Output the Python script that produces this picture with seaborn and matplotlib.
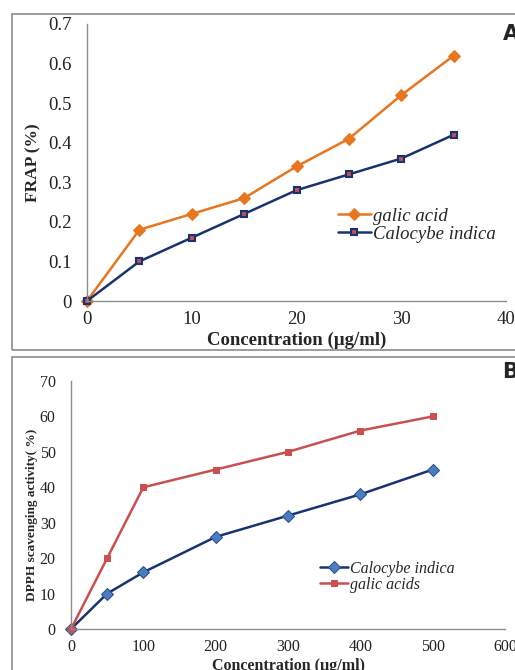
import pandas as pd
import matplotlib.pyplot as plt
import seaborn as sns
from matplotlib.patches import Rectangle

# Panel A: FRAP
conc_a = [0, 5, 10, 15, 20, 25, 30, 35]
frap_galic = [0, 0.18, 0.22, 0.26, 0.34, 0.41, 0.52, 0.62]
frap_calocybe = [0, 0.10, 0.16, 0.22, 0.28, 0.32, 0.36, 0.42]

# Panel B: DPPH
conc_b = [0, 50, 100, 200, 300, 400, 500]
dpph_calocybe = [0, 10, 16, 26, 32, 38, 45]
dpph_galic = [0, 20, 40, 45, 50, 56, 60]

sns.set_style("white")
plt.rcParams['font.family'] = ['Liberation Serif', 'DejaVu Serif']

fig = plt.figure(figsize=(5.15, 6.7), dpi=100)

# panel frames (clipped on the right / bottom like the source)
fig.patches.append(Rectangle((12 / 515, 1 - 350 / 670), 1.2, 336 / 670, transform=fig.transFigure,
                             fill=False, edgecolor='#8c8c8c', linewidth=1.2))
fig.patches.append(Rectangle((12 / 515, -0.2), 1.2, 0.2 + 1 - 357 / 670, transform=fig.transFigure,
                             fill=False, edgecolor='#8c8c8c', linewidth=1.2))

grey = '#8c8c8c'


def style_axes(ax, size):
    sns.despine(ax=ax)
    for s in ['left', 'bottom']:
        ax.spines[s].set_color(grey)
        ax.spines[s].set_linewidth(1)
    ax.tick_params(axis='both', direction='out', length=4, color=grey, labelsize=size,
                   labelcolor='#222222', width=1)
    ax.tick_params(axis='y', pad=7)


# ---- A ----
axA = fig.add_axes([87 / 515, 1 - 301 / 670, 419 / 515, 277 / 670])
axA.set_facecolor('none')
sns.lineplot(x=conc_a, y=frap_galic, ax=axA, color='#E8761E', marker='D', markersize=6.5,
             markeredgecolor='#E8761E', linewidth=1.8, label='galic acid', clip_on=False)
sns.lineplot(x=conc_a, y=frap_calocybe, ax=axA, color='#1A3370', marker='s', markersize=5,
             markerfacecolor='#C05050', markeredgecolor='#1A3370', markeredgewidth=1.5,
             linewidth=1.8, label='Calocybe indica', clip_on=False)
axA.set_xlim(0, 40)
axA.set_ylim(0, 0.7)
axA.set_xticks([0, 10, 20, 30, 40])
axA.set_yticks([0, 0.1, 0.2, 0.3, 0.4, 0.5, 0.6, 0.7])
axA.set_yticklabels(['0', '0.1', '0.2', '0.3', '0.4', '0.5', '0.6', '0.7'])
style_axes(axA, 13.5)
axA.set_xlabel('Concentration (µg/ml)', fontsize=13.5, fontweight='bold')
axA.set_ylabel('FRAP (%)', fontsize=12.5, fontweight='bold')
axA.xaxis.set_label_coords(0.5, -0.112)
axA.yaxis.set_label_coords(-0.11, 0.5)
axA.legend(loc='upper left', bbox_to_anchor=(0.58, 0.365), frameon=False,
           prop={'family': 'Liberation Serif', 'style': 'italic', 'size': 13.5},
           handlelength=1.8, handletextpad=0.1, labelspacing=0.05, borderaxespad=0)
fig.text(0.993, 1 - 34 / 670, 'A', fontsize=15, fontweight='bold', family='DejaVu Sans',
         ha='center', va='center')

# ---- B ----
axB = fig.add_axes([71 / 515, 1 - 629 / 670, 434 / 515, 248 / 670])
axB.set_facecolor('none')
sns.lineplot(x=conc_b, y=dpph_calocybe, ax=axB, color='#1A3370', marker='D', markersize=6.5,
             markerfacecolor='#4A7EC0', markeredgecolor='#2A4F8A', linewidth=1.8,
             label='Calocybe indica', clip_on=False)
sns.lineplot(x=conc_b, y=dpph_galic, ax=axB, color='#C8504F', marker='s', markersize=5,
             markerfacecolor='#C8504F', markeredgecolor='#C8504F', linewidth=1.8,
             label='galic acids', clip_on=False)
axB.set_xlim(0, 600)
axB.set_ylim(0, 70)
axB.set_xticks(range(0, 601, 100))
axB.set_yticks(range(0, 71, 10))
style_axes(axB, 11.5)
axB.set_xlabel('Concentration (µg/ml)', fontsize=11.5, fontweight='bold')
axB.set_ylabel('DPPH scavenging activity( %)', fontsize=9.5, fontweight='bold')
axB.xaxis.set_label_coords(0.5, -0.117)
axB.yaxis.set_label_coords(-0.076, 0.46)
axB.legend(loc='upper left', bbox_to_anchor=(0.56, 0.3), frameon=False,
           prop={'family': 'Liberation Serif', 'style': 'italic', 'size': 11.5},
           handlelength=1.75, handletextpad=0.1, labelspacing=0.0, borderaxespad=0)
fig.text(0.99, 1 - 372 / 670, 'B', fontsize=15, fontweight='bold', family='DejaVu Sans',
         ha='center', va='center')

fig.savefig('out.png', dpi=100)
